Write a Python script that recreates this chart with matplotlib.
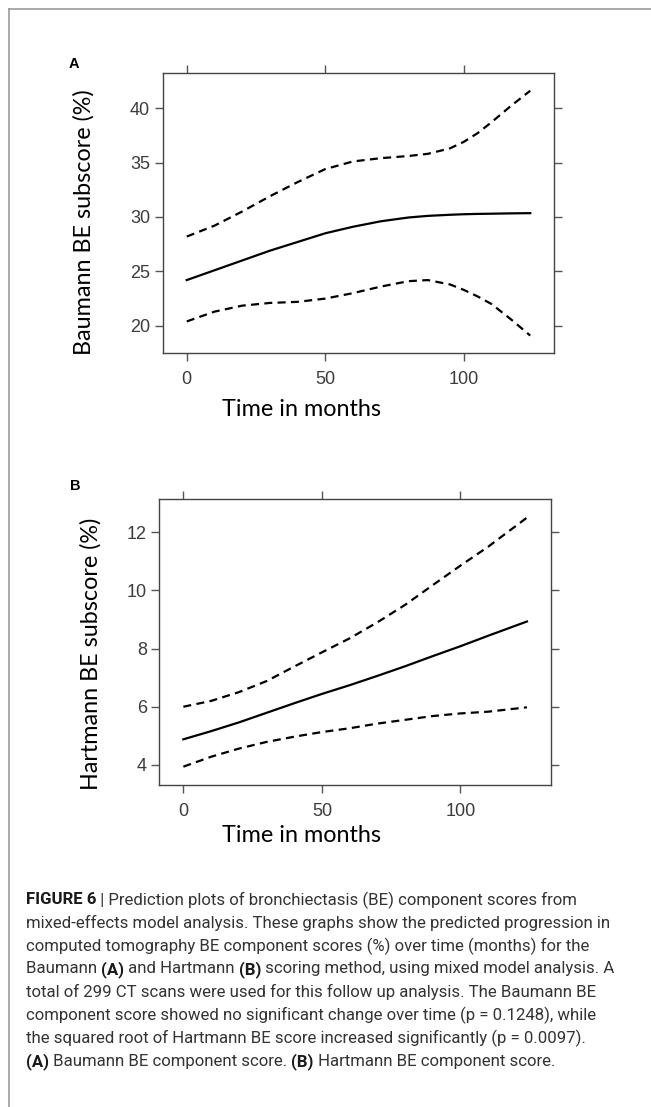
import matplotlib
matplotlib.use("Agg")
import matplotlib.pyplot as plt
from matplotlib.lines import Line2D

# ---------------- data ----------------
months_a = [0, 10, 20, 30, 40, 50, 60, 70, 80, 87, 95, 100, 105, 110, 117, 124]
baumann_fit = [24.2, 25.1, 26.0, 26.9, 27.7, 28.5, 29.1, 29.6, 29.95, 30.1, 30.2, 30.25, 30.28, 30.3, 30.33, 30.35]
baumann_upper = [28.2, 29.2, 30.5, 31.9, 33.2, 34.4, 35.1, 35.4, 35.6, 35.8, 36.3, 36.9, 37.7, 38.7, 40.2, 41.6]
baumann_lower = [20.4, 21.3, 21.85, 22.1, 22.2, 22.5, 23.0, 23.6, 24.1, 24.2, 23.8, 23.3, 22.7, 22.0, 20.6, 19.1]

months_b = [0, 10, 20, 30, 40, 50, 60, 70, 80, 90, 100, 110, 124]
hartmann_fit = [4.88, 5.16, 5.46, 5.79, 6.12, 6.44, 6.74, 7.06, 7.39, 7.74, 8.08, 8.44, 8.93]
hartmann_upper = [6.0, 6.2, 6.5, 6.88, 7.38, 7.87, 8.35, 8.9, 9.5, 10.18, 10.85, 11.5, 12.5]
hartmann_lower = [3.94, 4.28, 4.56, 4.79, 4.97, 5.13, 5.26, 5.42, 5.55, 5.68, 5.77, 5.83, 5.98]

xticks = [0, 50, 100]
yticks_a = [20, 25, 30, 35, 40]
yticks_b = [4, 6, 8, 10, 12]

caption_lines = [
    [("FIGURE 6", "bold"), (" | Prediction plots of bronchiectasis (BE) component scores from", "normal")],
    [("mixed-effects model analysis. These graphs show the predicted progression in", "normal")],
    [("computed tomography BE component scores (%) over time (months) for the", "normal")],
    [("Baumann ", "normal"), ("(A)", "bold"), (" and Hartmann ", "normal"), ("(B)", "bold"),
     (" scoring method, using mixed model analysis. A", "normal")],
    [("total of 299 CT scans were used for this follow up analysis. The Baumann BE", "normal")],
    [("component score showed no significant change over time (p = 0.1248), while", "normal")],
    [("the squared root of Hartmann BE score increased significantly (p = 0.0097).", "normal")],
    [("(A)", "bold"), (" Baumann BE component score. ", "normal"), ("(B)", "bold"),
     (" Hartmann BE component score.", "normal")],
]

# ---------------- figure ----------------
W, H = 651, 1107
fig = plt.figure(figsize=(W / 100, H / 100), dpi=100)
fig.patch.set_facecolor("white")

def px_axes(left, top, right, bottom):
    return fig.add_axes([left / W, 1 - bottom / H, (right - left) / W, (bottom - top) / H])

TICK_COLOR = "#555555"
LABEL_COLOR = "#3c3c3c"
LW = 1.6
DASH = (3.6, 2.4)

def style_axes(ax, xlim, ylim, yticks):
    ax.set_xlim(*xlim)
    ax.set_ylim(*ylim)
    ax.set_xticks(xticks)
    ax.set_yticks(yticks)
    for s in ax.spines.values():
        s.set_color("#444444")
        s.set_linewidth(1.0)
    ax.tick_params(axis="both", which="both", direction="out", length=6, width=1.0,
                   color=TICK_COLOR, labelcolor=LABEL_COLOR, labelsize=13,
                   top=True, right=True, labeltop=False, labelright=False)
    ax.tick_params(axis="x", pad=7)
    ax.tick_params(axis="y", pad=3)
    for lab in ax.get_xticklabels() + ax.get_yticklabels():
        lab.set_fontfamily("Liberation Sans")

XLIM = (-8.68, 132.68)

# Panel A
axA = px_axes(162.7, 73.3, 554.3, 353.0)
axA.plot(months_a, baumann_fit, color="black", lw=LW)
axA.plot(months_a, baumann_upper, color="black", lw=LW, dashes=DASH)
axA.plot(months_a, baumann_lower, color="black", lw=LW, dashes=DASH)
style_axes(axA, XLIM, (17.5, 43.2), yticks_a)

# Panel B
axB = px_axes(159.3, 499.3, 551.0, 785.0)
axB.plot(months_b, hartmann_fit, color="black", lw=LW)
axB.plot(months_b, hartmann_upper, color="black", lw=LW, dashes=DASH)
axB.plot(months_b, hartmann_lower, color="black", lw=LW, dashes=DASH)
style_axes(axB, XLIM, (3.31, 13.13), yticks_b)

LABEL_FONT = "Lato"
LABEL_SIZE = 16.8
def ftext(x, y, s, **kw):
    return fig.text(x / W, 1 - y / H, s, **kw)

ftext(84, 222, "Baumann BE subscore (%)", rotation=90, ha="center", va="center",
      fontsize=LABEL_SIZE, family=LABEL_FONT, color="black")
ftext(302, 409, "Time in months", ha="center", va="center", fontsize=LABEL_SIZE, family=LABEL_FONT, color="black")
ftext(91, 654, "Hartmann BE subscore (%)", rotation=90, ha="center", va="center",
      fontsize=LABEL_SIZE, family=LABEL_FONT, color="black")
ftext(302, 836, "Time in months", ha="center", va="center", fontsize=LABEL_SIZE, family=LABEL_FONT, color="black")

ftext(74, 64, "A", ha="center", va="center", fontsize=10.5, fontweight="bold",
      family="Liberation Sans", color="black")
ftext(75, 486, "B", ha="center", va="center", fontsize=10.5, fontweight="bold",
      family="Liberation Sans", color="black")

# frame border (top and left)
fig.add_artist(Line2D([8.5 / W, 1.0], [1 - 9 / H, 1 - 9 / H], transform=fig.transFigure,
                      color="#9a9a9a", lw=1.2))
fig.add_artist(Line2D([8.5 / W, 8.5 / W], [0.0, 1 - 9 / H], transform=fig.transFigure,
                      color="#9a9a9a", lw=1.2))

# caption
renderer = fig.canvas.get_renderer()
CAP_FONT = "Roboto"
CAP_SIZE = 12.1
CAP_COLOR = "#333333"

def seg_width(s, weight):
    t1 = fig.text(0, 0, "|" + s + "|", fontsize=CAP_SIZE, family=CAP_FONT, fontweight=weight)
    w1 = t1.get_window_extent(renderer=renderer).width
    t1.remove()
    t2 = fig.text(0, 0, "||", fontsize=CAP_SIZE, family=CAP_FONT, fontweight=weight)
    w2 = t2.get_window_extent(renderer=renderer).width
    t2.remove()
    return w1 - w2

y0 = 898.0
dy = 23.1
for i, segs in enumerate(caption_lines):
    x = 26.0
    y = y0 + i * dy
    for s, weight in segs:
        col = "#1a1a1a" if weight == "bold" else CAP_COLOR
        ftext(x, y, s, ha="left", va="center_baseline", fontsize=CAP_SIZE, family=CAP_FONT,
              fontweight=weight, color=col)
        x += seg_width(s, weight)

fig.savefig("out.png", dpi=100, facecolor="white")
